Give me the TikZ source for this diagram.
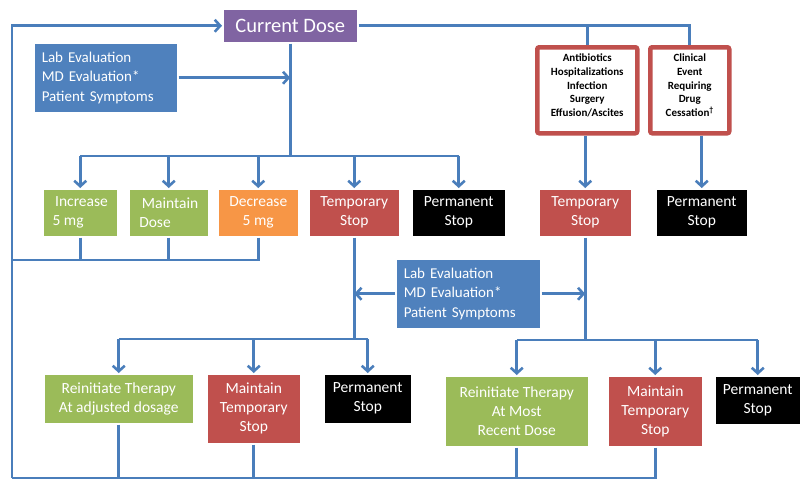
\documentclass[tikz,border=0pt]{standalone}
\usepackage{fontspec}
\setmainfont{Carlito}
\usetikzlibrary{arrows.meta,shadows}
\definecolor{cpurple}{HTML}{8064A2}
\definecolor{cblue}{HTML}{4F81BD}
\definecolor{cgreen}{HTML}{9BBB59}
\definecolor{corange}{HTML}{F79646}
\definecolor{cred}{HTML}{C0504D}
\definecolor{cline}{HTML}{4A7EBB}
\begin{document}
\begin{tikzpicture}[x=1pt,y=-1pt,
  box/.style={draw=white, line width=1.5pt, anchor=north west, text=white,
    font=\fontsize{15.5}{19}\selectfont, align=center, inner sep=2pt,
    drop shadow={opacity=0.3, shadow xshift=1.5pt, shadow yshift=-1.5pt}},
  evt/.style={draw=cred, line width=4.5pt, fill=white, rounded corners=2pt,
    anchor=north west, text=black, inner sep=1pt, text depth=10pt,
    font=\fontsize{11}{13.6}\selectfont\bfseries, align=center,
    drop shadow={opacity=0.3, shadow xshift=1.5pt, shadow yshift=-1.5pt}},
  conn/.style={draw=cline, line width=2.6pt},
  arr/.style={conn, -{Straight Barb[length=5.5pt,width=12pt]}}
]
\useasboundingbox (0,0) rectangle (801,483);
\fill[white] (0,0) rectangle (801,483);

% nodes
\node[box, fill=cpurple, minimum width=135pt, minimum height=34pt,
  font=\fontsize{20.5}{24}\selectfont] (cur) at (222,8) {Current Dose};
\node[box, fill=cblue, minimum width=144pt, minimum height=70pt,
  text width=128pt, align=left, font=\fontsize{15}{19.5}\selectfont] (lab1) at (33,42)
  {Lab Evaluation\\MD Evaluation*\\Patient Symptoms};

\node[box, fill=cgreen, minimum width=75pt, minimum height=48pt, align=left] (inc) at (42,188) {\,Increase\\5 mg};
\node[box, fill=cgreen, minimum width=80pt, minimum height=48pt, align=left] (mnt) at (128,188) {\,Maintain\\Dose};
\node[box, fill=corange, minimum width=81pt, minimum height=48pt] (dec) at (217,188) {Decrease\\5 mg};
\node[box, fill=cred, minimum width=91pt, minimum height=48pt] (ts1) at (308,188) {Temporary\\Stop};
\node[box, fill=black, minimum width=94pt, minimum height=48pt] (ps1) at (411,188) {Permanent\\Stop};

\node[evt, minimum width=100pt, minimum height=86pt] (anti) at (535,45)
  {Antibiotics\\Hospitalizations\\Infection\\Surgery\\Effusion/Ascites};
\node[evt, minimum width=79pt, minimum height=86pt] (clin) at (648,45)
  {Clinical\\Event\\Requiring\\Drug\\Cessation\textsuperscript{†}};

\node[box, fill=cred, minimum width=93pt, minimum height=48pt] (ts2) at (538,188) {Temporary\\Stop};
\node[box, fill=black, minimum width=92pt, minimum height=48pt] (ps2) at (655,188) {Permanent\\Stop};

\node[box, fill=cblue, minimum width=145pt, minimum height=70pt,
  text width=129pt, align=left, font=\fontsize{15}{19.5}\selectfont] (lab2) at (395,258)
  {Lab Evaluation\\MD Evaluation*\\Patient Symptoms};

\node[box, fill=cgreen, minimum width=150pt, minimum height=50pt] (ri1) at (43,373) {Reinitiate Therapy\\At adjusted dosage};
\node[box, fill=cred, minimum width=94pt, minimum height=70pt] (mts1) at (206,373) {Maintain\\Temporary\\Stop};
\node[box, fill=black, minimum width=88pt, minimum height=50pt] (ps3) at (323,373) {Permanent\\Stop};

\node[box, fill=cgreen, minimum width=144pt, minimum height=71pt] (ri2) at (444,375) {Reinitiate Therapy\\At Most\\Recent Dose};
\node[box, fill=cred, minimum width=95pt, minimum height=71pt] (mts2) at (607,375) {Maintain\\Temporary\\Stop};
\node[box, fill=black, minimum width=86pt, minimum height=49pt] (ps4) at (714,375) {Permanent\\Stop};

% helper coordinates
\coordinate (lb) at (12,478);
\coordinate (lm) at (12,260);
\coordinate (b1) at (0,156);
\coordinate (b2) at (0,339);
\coordinate (b3) at (0,340);

% return loop
\draw[arr] (lb) |- (cur.west);
\draw[conn] (mts2.south) -- (mts2.south |- lb) -- (lb);
\draw[conn] (ri2.south) -- (ri2.south |- lb);
\draw[conn] (ri1.south) -- (ri1.south |- lb);
\draw[conn] (mts1.south) -- (mts1.south |- lb);
\draw[conn] (dec.south) -- (dec.south |- lm) -- (lm);
\draw[conn] (inc.south) -- (inc.south |- lm);
\draw[conn] (mnt.south) -- (mnt.south |- lm);

% first decision
\draw[conn] (cur.south) -- (cur.south |- b1);
\draw[arr] (lab1.east) -- (lab1.east -| cur.south);
\draw[conn] (inc.north |- b1) -- (ps1.north |- b1);
\foreach \n in {inc,mnt,dec,ts1,ps1} \draw[arr] (\n.north |- b1) -- (\n.north);

% events
\draw[conn] (cur.east) -| (clin.north);
\draw[conn] (anti.north) -- (anti.north |- cur.east);
\draw[arr] (ts2.north |- anti.south) -- (ts2.north);
\draw[arr] (ps2.north |- clin.south) -- (ps2.north);

% second level
\draw[conn] (ts1.south) -- (ts1.south |- b2);
\draw[conn] (ts2.south) -- (ts2.south |- b3);
\draw[arr] (lab2.west) -- (lab2.west -| ts1.south);
\draw[arr] (lab2.east) -- (lab2.east -| ts2.south);
\draw[conn] (ri1.north |- b2) -- (ps3.north |- b2);
\foreach \n in {ri1,mts1,ps3} \draw[arr] (\n.north |- b2) -- (\n.north);
\draw[conn] (ri2.north |- b3) -- (ps4.north |- b3);
\foreach \n in {ri2,mts2,ps4} \draw[arr] (\n.north |- b3) -- (\n.north);
\end{tikzpicture}
\end{document}
